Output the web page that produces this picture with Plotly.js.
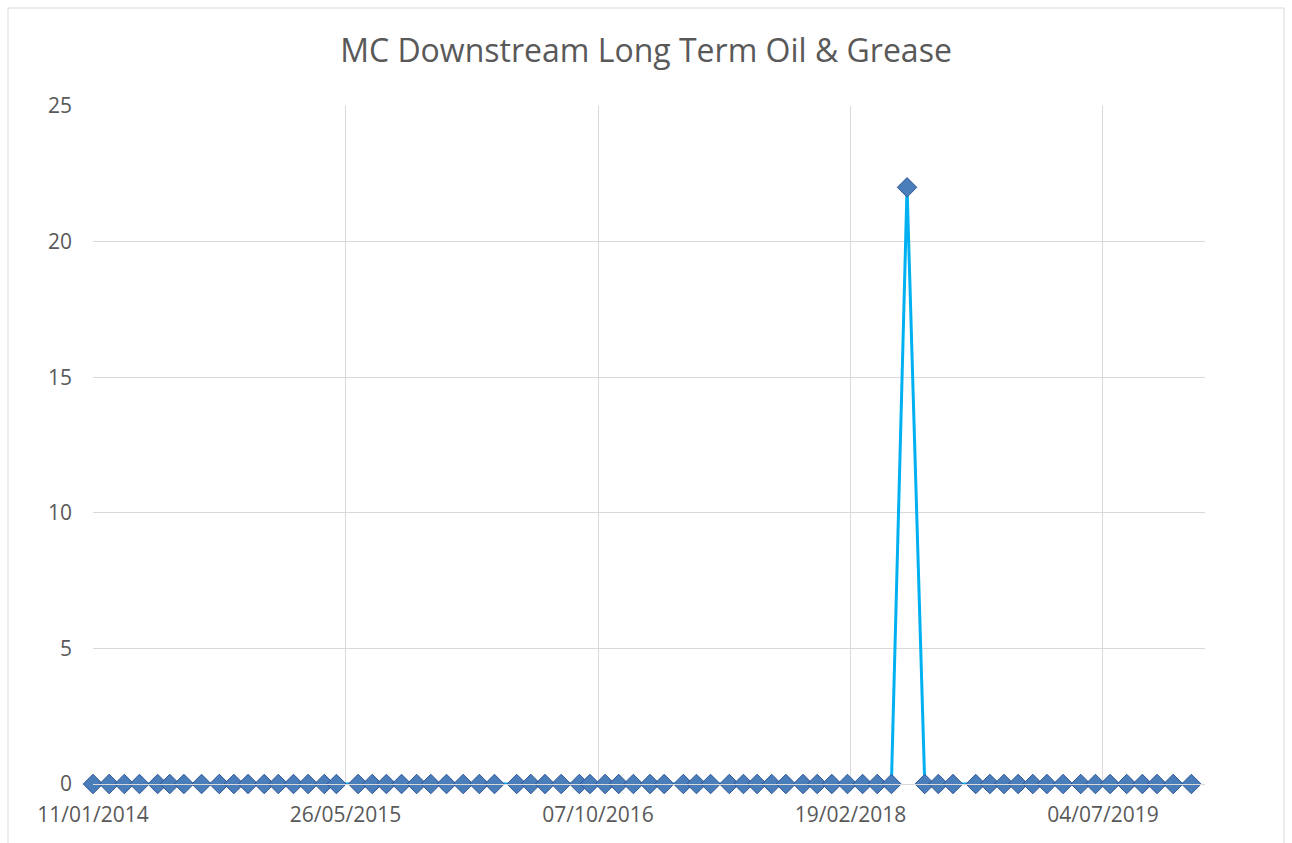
<!DOCTYPE html>
<html>
<head>
<meta charset="utf-8">
<script src="https://cdn.plot.ly/plotly-3.0.1.min.js"></script>
<style>html,body{margin:0;padding:0;background:#fff;}#chart{width:1292px;height:843px;}</style>
</head>
<body>
<div id="chart"></div>
<script>
var sampleDates = [
  "2014-01-11","2014-02-12","2014-03-14","2014-04-13","2014-05-19","2014-06-12",
  "2014-07-10","2014-08-14","2014-09-18","2014-10-17","2014-11-14","2014-12-16",
  "2015-01-13","2015-02-12","2015-03-13","2015-04-14","2015-05-08","2015-06-20",
  "2015-07-18","2015-08-15","2015-09-14","2015-10-14","2015-11-11","2015-12-12",
  "2016-01-14","2016-02-15","2016-03-16","2016-04-29","2016-05-27","2016-06-24",
  "2016-07-26","2016-08-31","2016-09-21","2016-10-21","2016-11-17","2016-12-16",
  "2017-01-18","2017-02-15","2017-03-25","2017-04-20","2017-05-18","2017-06-24",
  "2017-07-22","2017-08-18","2017-09-16","2017-10-14","2017-11-17","2017-12-15",
  "2018-01-13","2018-02-13","2018-03-15","2018-04-13","2018-05-11","2018-06-11",
  "2018-07-16","2018-08-12","2018-09-10","2018-10-25","2018-11-22","2018-12-20",
  "2019-01-17","2019-02-15","2019-03-15","2019-04-16","2019-05-21","2019-06-19",
  "2019-07-18","2019-08-20","2019-09-20","2019-10-19","2019-11-20","2019-12-26"
];
var oilGrease = [
  0,0,0,0,0,0, 0,0,0,0,0,0,
  0,0,0,0,0,0, 0,0,0,0,0,0,
  0,0,0,0,0,0, 0,0,0,0,0,0,
  0,0,0,0,0,0, 0,0,0,0,0,0,
  0,0,0,0,0,22, 0,0,0,0,0,0,
  0,0,0,0,0,0, 0,0,0,0,0,0
];
var chartTitle = "MC Downstream Long Term Oil & Grease";
var xRange = ["2014-01-11", "2020-01-22"];
var xTickStart = "2014-01-11";
var xTickDays = 500;
var yTicks = [0, 5, 10, 15, 20, 25];

var trace = {
  x: sampleDates,
  y: oilGrease,
  type: "scatter",
  mode: "lines+markers",
  line: {color: "#00b0f0", width: 3},
  marker: {symbol: "diamond", size: 15, color: "#4a7ebb", line: {color: "#2f5597", width: 1}},
  cliponaxis: false,
  hoverinfo: "x+y"
};

var layout = {
  width: 1292,
  height: 843,
  margin: {l: 93, r: 87, t: 106, b: 59},
  paper_bgcolor: "#ffffff",
  plot_bgcolor: "#ffffff",
  showlegend: false,
  font: {family: "Open Sans, Liberation Sans, sans-serif", color: "#595959"},
  title: {
    text: chartTitle,
    font: {size: 32, color: "#595959", family: "Open Sans, sans-serif"},
    x: 0.5, xanchor: "center", y: 0.94, yanchor: "middle"
  },
  xaxis: {
    type: "date",
    range: xRange,
    tick0: xTickStart,
    dtick: xTickDays * 86400000,
    tickformat: "%d/%m/%Y",
    showgrid: true,
    gridcolor: "#d9d9d9",
    gridwidth: 1,
    showline: true,
    linecolor: "#d9d9d9",
    linewidth: 1,
    zeroline: false,
    ticks: "",
    ticklabelstandoff: 12,
    tickfont: {size: 21, color: "#595959"}
  },
  yaxis: {
    range: [0, 25],
    tickvals: yTicks,
    showgrid: true,
    gridcolor: "#d9d9d9",
    gridwidth: 1,
    showline: false,
    zeroline: false,
    ticks: "",
    ticklabelstandoff: 20,
    tickfont: {size: 21, color: "#595959"}
  },
  shapes: [{
    type: "rect", xref: "paper", yref: "paper",
    x0: -85 / 1112, x1: 1191 / 1112, y0: -70 / 678, y1: 776 / 678,
    line: {color: "#d9d9d9", width: 1}, fillcolor: "rgba(0,0,0,0)", layer: "below"
  }]
};

Plotly.newPlot("chart", [trace], layout, {displayModeBar: false, staticPlot: true});
</script>
</body>
</html>
